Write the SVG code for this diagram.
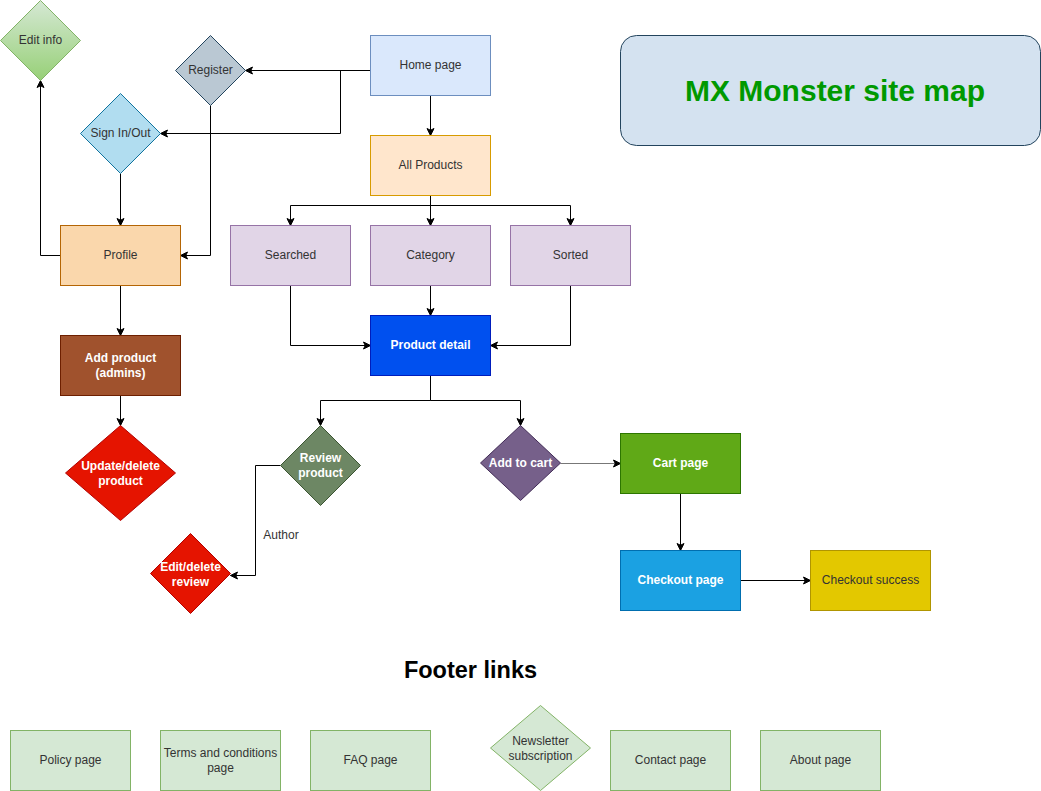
<svg xmlns="http://www.w3.org/2000/svg" width="1041" height="791" viewBox="0 0 1041 791">
<defs>
<linearGradient id="gEdit" x1="0" y1="0" x2="0" y2="1">
<stop offset="0" stop-color="#d5e8d4"/>
<stop offset="1" stop-color="#97d077"/>
</linearGradient>
<marker id="arr" viewBox="-8 -5 10 10" refX="0" refY="0" markerWidth="10" markerHeight="10" markerUnits="userSpaceOnUse" orient="auto">
<path d="M-7,-3.5 L0,0 L-7,3.5 L-5.25,0 Z" fill="#000" stroke="#000" stroke-width="1"/>
</marker>
</defs>
<style>
text{font-family:"Liberation Sans",Arial,Helvetica,sans-serif;font-size:12px;fill:#333;text-anchor:middle;dominant-baseline:central;transform:translate(0px,-1px)}
.w{fill:#fff;font-weight:bold}
.edge{fill:none;stroke:#000;stroke-width:1;marker-end:url(#arr)}
.foot rect,.foot path{fill:#d5e8d4;stroke:#82b366}
</style>
<rect width="1041" height="791" fill="#fff"/>

<g id="connectors">
<path class="edge" d="M370.5,70.5 L245.5,70.5"/>
<path class="edge" d="M370.5,70.5 L340.5,70.5 L340.5,133.5 L160.5,133.5"/>
<path class="edge" d="M120.5,173.5 L120.5,225.5"/>
<path class="edge" d="M210.5,105.5 L210.5,255.5 L180.5,255.5"/>
<path class="edge" d="M60.5,255.5 L40.5,255.5 L40.5,80.5"/>
<path class="edge" d="M120.5,285.5 L120.5,335.5"/>
<path class="edge" d="M120.5,395.5 L120.5,425.5"/>
<path class="edge" d="M430.5,95.5 L430.5,135.5"/>
<path class="edge" d="M430.5,195.5 L430.5,205.5 L290.5,205.5 L290.5,225.5"/>
<path class="edge" d="M430.5,195.5 L430.5,225.5"/>
<path class="edge" d="M430.5,195.5 L430.5,205.5 L570.5,205.5 L570.5,225.5"/>
<path class="edge" d="M290.5,285.5 L290.5,345.5 L370.5,345.5"/>
<path class="edge" d="M430.5,285.5 L430.5,315.5"/>
<path class="edge" d="M570.5,285.5 L570.5,345.5 L490.5,345.5"/>
<path class="edge" d="M430.5,375.5 L430.5,400.5 L320.5,400.5 L320.5,425.5"/>
<path class="edge" d="M430.5,375.5 L430.5,400.5 L520.5,400.5 L520.5,425.5"/>
<path class="edge" d="M280.5,465.5 L255.5,465.5 L255.5,575.5 L230.5,575.5"/>
<text x="281" y="536">Author</text>
<path class="edge" d="M560.5,463.5 L620.5,463.5" style="stroke:#777"/>
<path class="edge" d="M680.5,493.5 L680.5,550.5"/>
<path class="edge" d="M740.5,580.5 L810.5,580.5"/>
</g>

<g id="title">
<rect x="620.5" y="35.5" width="420" height="110" rx="16" fill="#d4e2f0" stroke="#23445d"/>
<text x="835" y="91" style="font-size:30px;font-weight:bold;fill:#009900">MX Monster site map</text>
</g>

<g id="edit-info">
<path d="M40.5,0.5 L80.5,40.5 L40.5,80.5 L0.5,40.5 Z" fill="url(#gEdit)" stroke="#82b366"/>
<text x="40.5" y="40.5">Edit info</text>
</g>
<g id="register">
<path d="M210.5,35.5 L245.5,70.5 L210.5,105.5 L175.5,70.5 Z" fill="#bac8d3" stroke="#23445d"/>
<text x="210.5" y="70.5">Register</text>
</g>
<g id="signin">
<path d="M120.5,93.5 L160.5,133.5 L120.5,173.5 L80.5,133.5 Z" fill="#b1ddf0" stroke="#10739e"/>
<text x="120.5" y="133.5">Sign In/Out</text>
</g>
<g id="home">
<rect x="370.5" y="35.5" width="120" height="60" fill="#dae8fc" stroke="#6c8ebf"/>
<text x="430.5" y="65.5">Home page</text>
</g>
<g id="all-products">
<rect x="370.5" y="135.5" width="120" height="60" fill="#ffe6cc" stroke="#d79b00"/>
<text x="430.5" y="165.5">All Products</text>
</g>
<g id="profile">
<rect x="60.5" y="225.5" width="120" height="60" fill="#fad7ac" stroke="#b46504"/>
<text x="120.5" y="255.5">Profile</text>
</g>
<g id="add-product">
<rect x="60.5" y="335.5" width="120" height="60" fill="#a0522d" stroke="#6d1f00"/>
<text class="w" x="120.5" y="358.5">Add product</text>
<text class="w" x="120.5" y="373.5">(admins)</text>
</g>
<g id="update-delete">
<path d="M120.5,425.5 L175.5,473 L120.5,520.5 L65.5,473 Z" fill="#e51400" stroke="#b20000"/>
<text class="w" x="120.5" y="467">Update/delete</text>
<text class="w" x="120.5" y="482">product</text>
</g>
<g id="searched">
<rect x="230.5" y="225.5" width="120" height="60" fill="#e1d5e7" stroke="#9673a6"/>
<text x="290.5" y="255.5">Searched</text>
</g>
<g id="category">
<rect x="370.5" y="225.5" width="120" height="60" fill="#e1d5e7" stroke="#9673a6"/>
<text x="430.5" y="255.5">Category</text>
</g>
<g id="sorted">
<rect x="510.5" y="225.5" width="120" height="60" fill="#e1d5e7" stroke="#9673a6"/>
<text x="570.5" y="255.5">Sorted</text>
</g>
<g id="product-detail">
<rect x="370.5" y="315.5" width="120" height="60" fill="#0050ef" stroke="#001dbc"/>
<text class="w" x="430.5" y="345.5">Product detail</text>
</g>
<g id="review">
<path d="M320.5,425.5 L360.5,465.5 L320.5,505.5 L280.5,465.5 Z" fill="#6d8764" stroke="#3a5431"/>
<text class="w" x="320.5" y="459">Review</text>
<text class="w" x="320.5" y="474">product</text>
</g>
<g id="add-to-cart">
<path d="M520.5,425.5 L560.5,463 L520.5,500.5 L480.5,463 Z" fill="#76608a" stroke="#432d57"/>
<text class="w" x="520.5" y="464">Add to cart</text>
</g>
<g id="cart">
<rect x="620.5" y="433.5" width="120" height="60" fill="#60a917" stroke="#2d7600"/>
<text class="w" x="680.5" y="463.5">Cart page</text>
</g>
<g id="checkout">
<rect x="620.5" y="550.5" width="120" height="60" fill="#1ba1e2" stroke="#006eaf"/>
<text class="w" x="680.5" y="580.5">Checkout page</text>
</g>
<g id="checkout-success">
<rect x="810.5" y="550.5" width="120" height="60" fill="#e3c800" stroke="#b09500"/>
<text x="870.5" y="580.5">Checkout success</text>
</g>
<g id="edit-review">
<path d="M190.5,533.5 L230.5,573.5 L190.5,613.5 L150.5,573.5 Z" fill="#e51400" stroke="#b20000"/>
<text class="w" x="190.5" y="568">Edit/delete</text>
<text class="w" x="190.5" y="583">review</text>
</g>

<g id="footer-title">
<text x="470.5" y="671" style="font-size:23.5px;font-weight:bold;fill:#000">Footer links</text>
</g>
<g id="policy" class="foot">
<rect x="10.5" y="730.5" width="120" height="60"/>
<text x="70.5" y="761">Policy page</text>
</g>
<g id="terms" class="foot">
<rect x="160.5" y="730.5" width="120" height="60"/>
<text x="220.5" y="753.5">Terms and conditions</text>
<text x="220.5" y="768.5">page</text>
</g>
<g id="faq" class="foot">
<rect x="310.5" y="730.5" width="120" height="60"/>
<text x="370.5" y="761">FAQ page</text>
</g>
<g id="newsletter" class="foot">
<path d="M540.5,705.5 L590.5,748 L540.5,790.5 L490.5,748 Z"/>
<text x="540.5" y="742">Newsletter</text>
<text x="540.5" y="756.5">subscription</text>
</g>
<g id="contact" class="foot">
<rect x="610.5" y="730.5" width="120" height="60"/>
<text x="670.5" y="761">Contact page</text>
</g>
<g id="about" class="foot">
<rect x="760.5" y="730.5" width="120" height="60"/>
<text x="820.5" y="761">About page</text>
</g>
</svg>
